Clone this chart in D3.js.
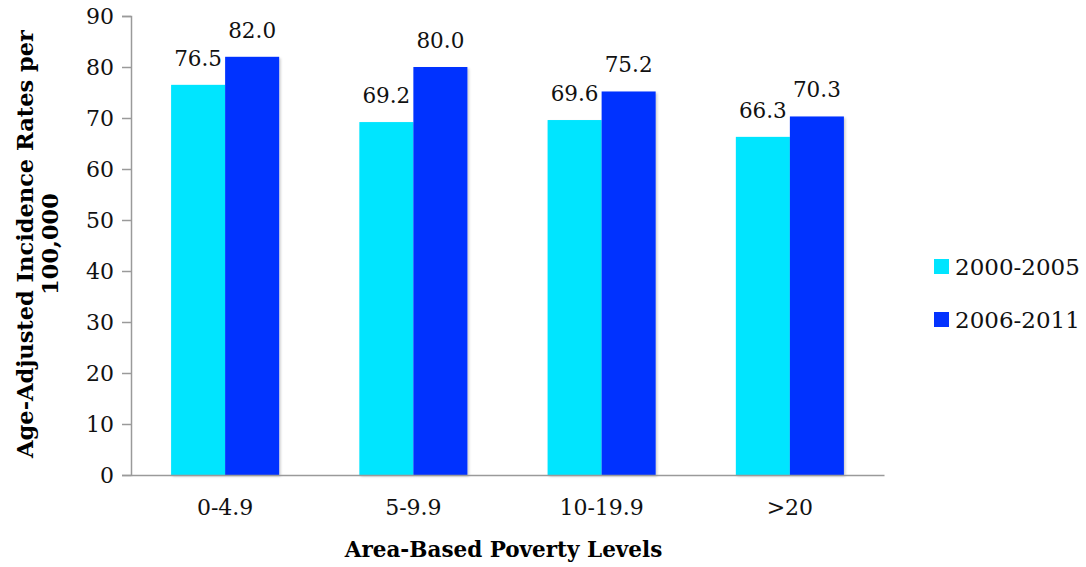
<!DOCTYPE html>
<html>
<head>
    <meta charset="utf-8">
    <style>
        body { margin: 0; background: #fff; }
        svg { font-family: 'DejaVu Serif', serif; }
        .axis path, .axis line { stroke: #9a9a9a; stroke-width: 1.5; }
        .axis text { fill: #111; font-size: 22px; font-family: 'DejaVu Serif', serif; }
    </style>
    <title>Age-Adjusted Incidence Rates</title>
</head>
<body>
    <svg width="1086" height="567"></svg>

<script src="https://d3js.org/d3.v7.min.js"></script>
<script>
    let categories = ['0-4.9', '5-9.9', '10-19.9', '>20'];
    let seriesNames = ['2000-2005', '2006-2011'];
    let values2000 = [76.5, 69.2, 69.6, 66.3];
    let values2006 = [82.0, 80.0, 75.2, 70.3];
    let yTicks = [0, 10, 20, 30, 40, 50, 60, 70, 80, 90];
    let colors = ['#00e5ff', '#0433ff'];

    let svg = d3.select('svg');
    let margin = { left: 131, right: 202, top: 16, bottom: 92 };
    let width = 1086 - margin.left - margin.right;
    let height = 567 - margin.top - margin.bottom;

    let defs = svg.append('defs');
    defs.append('filter').attr('id', 'shadow')
        .attr('x', '-10%').attr('y', '-10%').attr('width', '130%').attr('height', '130%')
        .append('feDropShadow')
        .attr('dx', 1.5).attr('dy', 1.5).attr('stdDeviation', 1)
        .attr('flood-color', '#000').attr('flood-opacity', 0.2);

    let g = svg.append('g').attr('transform', `translate(${margin.left},${margin.top})`);

    let x = d3.scaleBand().domain(categories).range([0, width]).paddingInner(0.426).paddingOuter(0.213);
    let xSub = d3.scaleBand().domain(seriesNames).range([0, x.bandwidth()]);
    let y = d3.scaleLinear().domain([0, 90]).range([height, 0]);

    let rows = categories.map((c, i) => ({ cat: c, vals: [values2000[i], values2006[i]] }));

    // y axis
    let yAxis = g.append('g').attr('class', 'axis')
        .call(d3.axisLeft(y).tickValues(yTicks).tickSize(9).tickPadding(8))
    yAxis.selectAll('text').attr('dy', '0.36em')

    // bars
    let groups = g.append('g').selectAll('g')
        .data(rows)
        .join('g')
        .attr('transform', d => `translate(${x(d.cat)},0)`)

    groups.selectAll('rect')
        .data(d => d.vals.map((v, i) => ({ key: seriesNames[i], v: v, i: i })))
        .join('rect')
        .attr('x', d => xSub(d.key))
        .attr('y', d => y(d.v))
        .attr('width', xSub.bandwidth())
        .attr('height', d => height - y(d.v))
        .attr('fill', d => colors[d.i])
        .attr('filter', 'url(#shadow)')

    groups.selectAll('text')
        .data(d => d.vals.map((v, i) => ({ key: seriesNames[i], v: v })))
        .join('text')
        .attr('x', d => xSub(d.key) + xSub.bandwidth() / 2)
        .attr('y', d => y(d.v) - 19)
        .attr('text-anchor', 'middle')
        .attr('font-size', 21.5)
        .attr('fill', '#111')
        .text(d => d3.format('.1f')(d.v))

    // x axis drawn after bars so the baseline sits on top
    let xAxis = g.append('g').attr('class', 'axis')
        .attr('transform', `translate(0,${height})`)
        .call(d3.axisBottom(x).tickSize(0).tickPadding(24))
    xAxis.selectAll('text').attr('dy', '0.71em')

    // axis titles
    g.append('text')
        .attr('x', width / 2 - 4)
        .attr('y', height + 82)
        .attr('text-anchor', 'middle')
        .attr('font-weight', 'bold')
        .attr('font-size', 21.5)
        .text('Area-Based Poverty Levels')

    let yTitle = svg.append('text')
        .attr('transform', 'translate(33,244) rotate(-90)')
        .attr('text-anchor', 'middle')
        .attr('font-weight', 'bold')
        .attr('font-size', 22.5)
    yTitle.append('tspan').attr('x', 0).attr('y', 0).text('Age-Adjusted Incidence Rates per')
    yTitle.append('tspan').attr('x', 0).attr('y', 25).text('100,000')

    // legend
    let legend = svg.append('g').attr('transform', 'translate(934,259)')
    let items = legend.selectAll('g')
        .data(seriesNames)
        .join('g')
        .attr('transform', (d, i) => `translate(0,${i * 53})`)
    items.append('rect')
        .attr('width', 15).attr('height', 15)
        .attr('fill', (d, i) => colors[i])
    items.append('text')
        .attr('x', 21).attr('y', 8)
        .attr('dy', '0.36em')
        .attr('font-size', 23)
        .attr('fill', '#111')
        .text(d => d)
</script>
</body>
</html>
